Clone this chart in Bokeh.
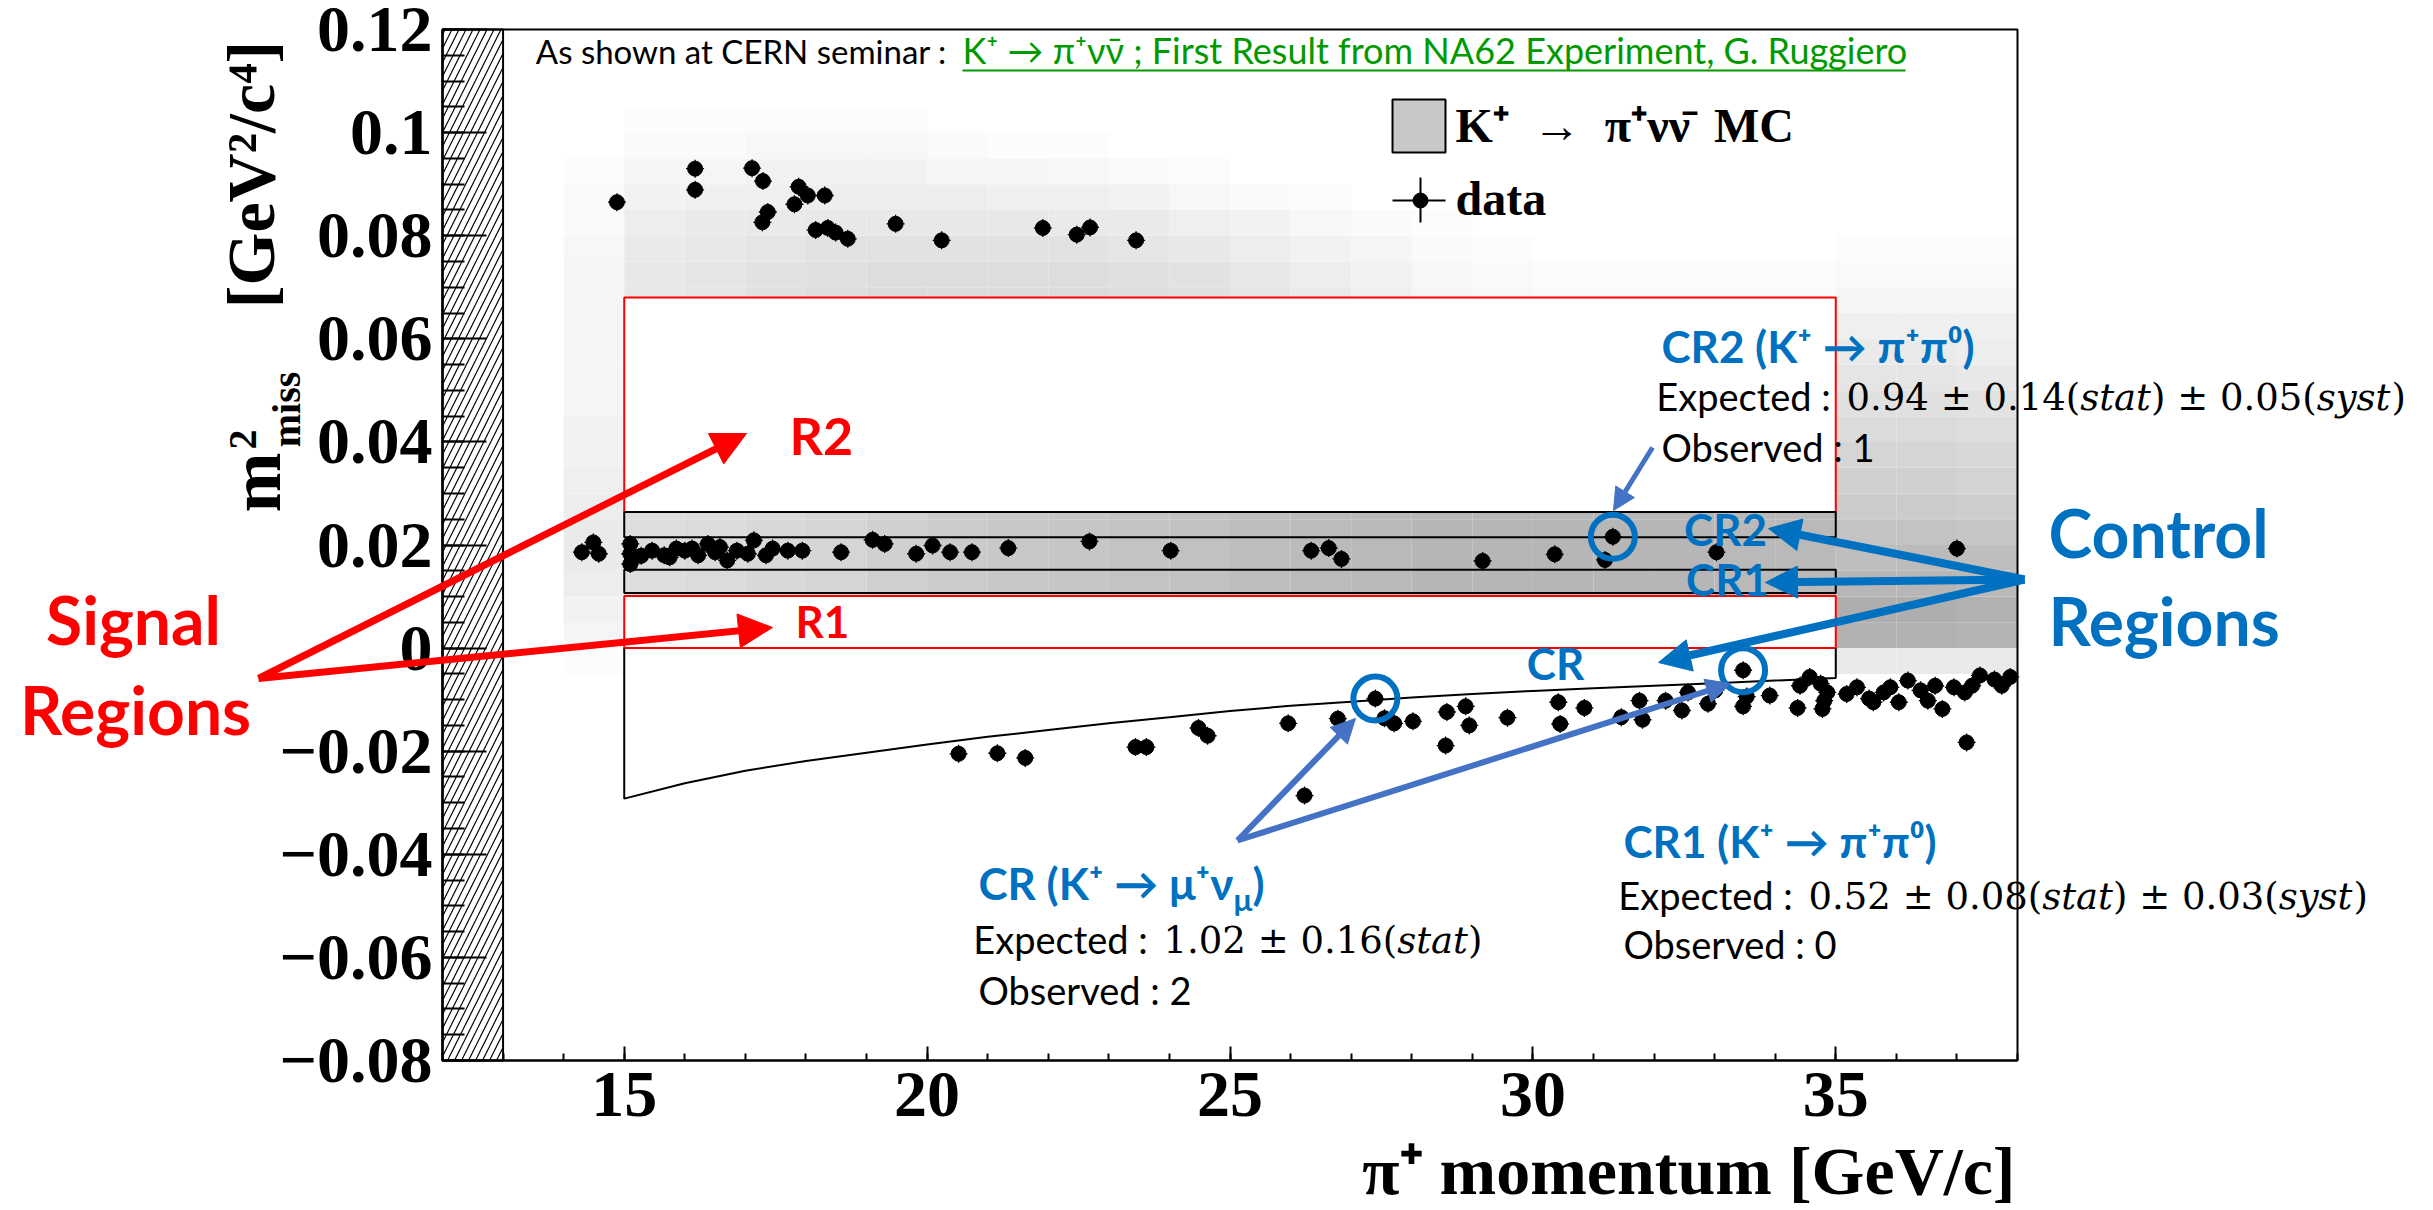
import numpy as np
from bokeh.plotting import figure
from bokeh.models import FixedTicker, Label, Arrow, NormalHead, Range1d
from bokeh.embed import file_html
from bokeh.resources import INLINE

# ---------------- data ----------------
p_range = [12, 38]
m2_range = [-0.08, 0.12]
y_ticks = [-0.08, -0.06, -0.04, -0.02, 0.0, 0.02, 0.04, 0.06, 0.08, 0.1, 0.12]
y_tick_labels = ["\u22120.08", "\u22120.06", "\u22120.04", "\u22120.02", "0",
                 "0.02", "0.04", "0.06", "0.08", "0.1", "0.12"]
x_ticks = [15, 20, 25, 30, 35]
x_tick_labels = ["15", "20", "25", "30", "35"]

excluded_p = [12, 13]          # hatched momentum band
signal_p = [15, 35]            # momentum range of the regions
R1 = [0.0, 0.0101]
R2 = [0.0264, 0.068]
CR1 = [0.0107, 0.0152]
CR2 = [0.0215, 0.0264]

# upper edge of the K -> mu nu control region
mu_p = [15, 16, 17, 18, 19, 20, 21, 22, 23, 24, 25, 26, 27, 28, 29, 30, 31, 32, 33, 34, 35]
mu_m2 = [-0.0292, -0.0262, -0.0238, -0.0219, -0.0203, -0.0187, -0.0172, -0.0159,
         -0.0146, -0.0134, -0.0122, -0.0112, -0.0104, -0.0096, -0.0089, -0.0083,
         -0.0078, -0.0073, -0.0068, -0.0063, -0.0058]

# data events: momentum [GeV/c]
data_p = [
    14.88, 16.17, 16.17, 17.11, 17.29, 17.37, 17.28, 17.88, 18.03, 17.81, 18.31, 18.16,
    18.36, 18.49, 18.69, 19.48, 20.24, 21.91, 22.47, 22.69, 23.45,
    14.30, 14.49, 14.58, 15.10, 15.10, 15.10, 15.28, 15.46, 15.66, 15.75, 15.86, 16.00,
    16.12, 16.22, 16.38, 16.50, 16.58, 16.70, 16.86, 17.04, 17.14, 17.34, 17.45, 17.70,
    17.94, 18.58, 19.10, 19.30, 19.82, 20.09, 20.38, 20.74, 21.34, 22.68, 24.02, 26.34,
    26.63, 26.84, 29.17, 30.36, 31.19, 31.32, 33.03, 37.00,
    20.52, 21.16, 21.62, 23.44, 23.62, 24.48, 24.63, 25.96, 26.23, 26.78, 27.40, 27.55,
    27.71, 28.02, 28.58, 28.56, 28.89, 28.95, 29.58, 30.42, 30.45, 30.85, 31.46, 31.76,
    31.81, 32.19, 32.46, 32.56, 32.89, 33.01, 33.47, 33.47, 33.53, 33.91, 34.37, 34.41,
    34.57, 34.75, 34.81, 34.78, 34.86, 35.18, 35.35, 35.55, 35.62, 35.79, 35.90, 36.04,
    36.19, 36.40, 36.52, 36.64, 36.76, 36.95, 37.13, 37.16, 37.25, 37.38, 37.62, 37.74,
    37.88]
# data events: m2_miss [GeV^2/c^4]
data_m2 = [
    0.0865, 0.0930, 0.0889, 0.0931, 0.0906, 0.0846, 0.0826, 0.0895, 0.0878, 0.0861, 0.0878, 0.0811,
    0.0815, 0.0806, 0.0794, 0.0823, 0.0791, 0.0815, 0.0802, 0.0816, 0.0791,
    0.0186, 0.0205, 0.0183, 0.0202, 0.0183, 0.0163, 0.0179, 0.0189, 0.0180, 0.0176, 0.0193, 0.0189,
    0.0193, 0.0180, 0.0202, 0.0186, 0.0196, 0.0170, 0.0189, 0.0183, 0.0209, 0.0180, 0.0193, 0.0189,
    0.0189, 0.0186, 0.0210, 0.0202, 0.0183, 0.0199, 0.0186, 0.0186, 0.0194, 0.0207, 0.0189, 0.0189,
    0.0194, 0.0173, 0.0169, 0.0182, 0.0171, 0.0216, 0.0186, 0.0193,
    -0.0205, -0.0204, -0.0213, -0.0192, -0.0192, -0.0155, -0.0170, -0.0146, -0.0286, -0.0137, -0.0098, -0.0136,
    -0.0146, -0.0142, -0.0124, -0.0189, -0.0113, -0.0150, -0.0135, -0.0105, -0.0147, -0.0116, -0.0134, -0.0102,
    -0.0139, -0.0102, -0.0121, -0.0086, -0.0108, -0.0082, -0.0043, -0.0113, -0.0094, -0.0092, -0.0116, -0.0073,
    -0.0056, -0.0069, -0.0102, -0.0118, -0.0086, -0.0089, -0.0076, -0.0098, -0.0105, -0.0086, -0.0076, -0.0105,
    -0.0063, -0.0082, -0.0102, -0.0073, -0.0118, -0.0076, -0.0086, -0.0183, -0.0073, -0.0053, -0.0061, -0.0073,
    -0.0056]

# events highlighted with circles
circled_p = [31.32, 33.47, 27.40]
circled_m2 = [0.0216, -0.0043, -0.0098]

# K+ -> pi+ nu nubar MC density (grey level 0..40), 1 GeV/c x 0.005 GeV^2/c^4 cells
mc_p_edges = [14, 15, 16, 17, 18, 19, 20, 21, 22, 23, 24, 25, 26,
              27, 28, 29, 30, 31, 32, 33, 34, 35, 36, 37, 38]
mc_m2_edges = [-0.005, 0.0, 0.005, 0.010, 0.015, 0.020, 0.025, 0.030, 0.035, 0.040, 0.045,
               0.050, 0.055, 0.060, 0.065, 0.070, 0.075, 0.080, 0.085, 0.090, 0.095, 0.100, 0.105]
band = [13, 14, 15, 16, 18, 20, 21, 22, 23, 24, 25, 26, 27, 28, 28, 28, 28, 28, 27, 27]
blind = [0] * 20
mc_grey = [
    [1] + [3] * 20 + [8, 8, 8],                 # -0.005
    [4] + blind + [30, 30, 29],                 # 0.000
    [5] + blind + [31, 31, 30],                 # 0.005
    [7] + band + [28, 28, 27],                  # 0.010
    [8] + band + [25, 26, 25],                  # 0.015
    [8] + band + [23, 23, 22],                  # 0.020
    [7] + band + [20, 20, 19],                  # 0.025
    [6] + blind + [18, 18, 17],                 # 0.030
    [5] + blind + [16, 16, 15],                 # 0.035
    [5] + blind + [14, 14, 13],                 # 0.040
    [4] + blind + [12, 12, 11],                 # 0.045
    [4] + blind + [10, 10, 9],                  # 0.050
    [4] + blind + [8, 8, 7],                    # 0.055
    [4] + blind + [6, 6, 6],                    # 0.060
    [4, 9, 10, 12, 13, 14, 14, 14, 14, 13, 12, 10, 8, 6, 4, 3, 2, 2, 2, 2, 2, 4, 4, 4],   # 0.065
    [4, 9, 10, 11, 12, 13, 13, 13, 13, 12, 11, 9, 7, 5, 3, 2, 1, 1, 1, 1, 1, 2, 2, 2],    # 0.070
    [3, 8, 9, 10, 11, 11, 11, 11, 11, 10, 9, 7, 5, 4, 2, 1, 0, 0, 0, 0, 0, 1, 1, 1],      # 0.075
    [2, 7, 8, 8, 9, 9, 9, 9, 8, 8, 6, 5, 3, 2, 1, 0, 0, 0, 0, 0, 0, 0, 0, 0],             # 0.080
    [2, 5, 6, 6, 7, 7, 7, 6, 6, 5, 3, 2, 1, 0, 0, 0, 0, 0, 0, 0, 0, 0, 0, 0],             # 0.085
    [1, 4, 4, 5, 5, 5, 4, 4, 3, 2, 1, 0, 0, 0, 0, 0, 0, 0, 0, 0, 0, 0, 0, 0],             # 0.090
    [0, 2, 2, 3, 3, 3, 2, 1, 1, 0, 0, 0, 0, 0, 0, 0, 0, 0, 0, 0, 0, 0, 0, 0],             # 0.095
    [0, 1, 1, 1, 1, 1, 0, 0, 0, 0, 0, 0, 0, 0, 0, 0, 0, 0, 0, 0, 0, 0, 0, 0],             # 0.100
]

# ---------------- geometry: the data box sits at these canvas pixels ----------------
W, H = 2433, 1210
FL, FR, FT, FB = 442, 2017, 29, 1060


def X(px):
    return p_range[0] + (px - FL) * (p_range[1] - p_range[0]) / (FR - FL)


def Y(py):
    return m2_range[1] - (py - FT) * (m2_range[1] - m2_range[0]) / (FB - FT)


BLUE = "#0070C0"
LBLUE = "#4472C4"
RED = "#FF0000"
GREEN = "#009A00"
SANS = "Lato"
SERIF = "Liberation Serif"
MATH = "DejaVu Serif"
# half of (ascent - descent) per em: offset from baseline to the "middle" anchor
MID = {SANS: 0.387, SERIF: 0.338, MATH: 0.346}
# advance widths (em) of DejaVu Serif glyphs used in the math parts
MATH_W = {"0": 0.636, "1": 0.636, "2": 0.636, "3": 0.636, "4": 0.636, "5": 0.636,
          "6": 0.636, "7": 0.636, "8": 0.636, "9": 0.636, ".": 0.318, " ": 0.318,
          "\u00b1": 0.838, "(": 0.390, ")": 0.390, "s": 0.513, "t": 0.402, "a": 0.596, "y": 0.592}
NB = "\u00a0"

p = figure(width=W, height=H, x_range=Range1d(X(0), X(W)), y_range=Range1d(Y(H), Y(0)),
           output_backend="svg", toolbar_location=None, title=None,
           min_border_left=0, min_border_right=0, min_border_top=0, min_border_bottom=0)
p.background_fill_color = "white"
p.border_fill_color = "white"
p.outline_line_color = None
p.xgrid.visible = False
p.ygrid.visible = False

# ---- MC density ----
L, R_, B, T, C = [], [], [], [], []
for j in range(len(mc_m2_edges) - 1):
    for i in range(len(mc_p_edges) - 1):
        d = mc_grey[j][i]
        if d <= 0:
            continue
        g = int(round(255 - 2.6 * d))
        L.append(mc_p_edges[i]); R_.append(mc_p_edges[i + 1])
        B.append(mc_m2_edges[j]); T.append(mc_m2_edges[j + 1])
        C.append("#%02x%02x%02x" % (g, g, g))
p.quad(left=L, right=R_, bottom=B, top=T, fill_color=C, line_color=None)

# ---- blinded signal regions (white) ----
p.quad(left=[signal_p[0]] * 2, right=[signal_p[1]] * 2, bottom=[R1[0], R2[0]], top=[R1[1], R2[1]],
       fill_color="white", line_color=None)
p.varea(x=mu_p, y1=mu_m2, y2=[0] * len(mu_p), fill_color="white")

# ---- hatched excluded band ----
p.quad(left=[excluded_p[0]], right=[excluded_p[1]], bottom=[m2_range[0]], top=[m2_range[1]],
       fill_color="white", hatch_pattern="/", hatch_color="black", hatch_scale=14,
       hatch_weight=1.2, line_color="black", line_width=2)

# ---- signal regions (red) ----
p.quad(left=[signal_p[0]] * 2, right=[signal_p[1]] * 2, bottom=[R1[0], R2[0]], top=[R1[1], R2[1]],
       fill_color=None, line_color=RED, line_width=2)
# ---- control regions (black) ----
p.quad(left=[signal_p[0]] * 2, right=[signal_p[1]] * 2, bottom=[CR1[0], CR2[0]], top=[CR1[1], CR2[1]],
       fill_color=None, line_color="black", line_width=2)
p.line(x=[mu_p[0]] + mu_p + [mu_p[-1]], y=[0.0] + mu_m2 + [0.0], line_color="black", line_width=2)

# ---- data ----
p.scatter(x=data_p, y=data_m2, marker="cross", size=18, line_color="black", line_width=1.3)
p.scatter(x=data_p, y=data_m2, marker="circle", size=15, fill_color="black", line_color="black")

# ---- circled events ----
p.scatter(x=circled_p, y=circled_m2, marker="circle", size=44, fill_color=None,
          line_color=BLUE, line_width=6)

# ---- plot box ----
p.quad(left=[p_range[0]], right=[p_range[1]], bottom=[m2_range[0]], top=[m2_range[1]],
       fill_color=None, line_color="black", line_width=2)

# ---- axes (placed at the box edges) ----
yminor = [round(-0.08 + 0.005 * k, 3) for k in range(41)]
p.yaxis.ticker = FixedTicker(ticks=y_ticks, minor_ticks=yminor)
p.yaxis.major_label_overrides = dict(zip(y_ticks, y_tick_labels))
p.yaxis.fixed_location = p_range[0]
p.yaxis.bounds = tuple(m2_range)
xminor = list(range(12, 39))
p.xaxis.ticker = FixedTicker(ticks=x_ticks, minor_ticks=xminor)
p.xaxis.major_label_overrides = dict(zip(x_ticks, x_tick_labels))
p.xaxis.fixed_location = m2_range[0]
p.xaxis.bounds = tuple(p_range)
for ax in (p.xaxis[0], p.yaxis[0]):
    ax.major_label_text_font = SERIF
    ax.major_label_text_font_style = "bold"
    ax.major_label_text_font_size = "66px"
    ax.major_label_text_color = "black"
    ax.axis_line_width = 2
    ax.major_tick_line_width = 2
    ax.minor_tick_line_width = 2
    ax.major_tick_out = 0
    ax.minor_tick_out = 0
p.yaxis.major_tick_in = 44
p.yaxis.minor_tick_in = 22
p.yaxis.major_label_standoff = 10
p.xaxis.major_tick_in = 14
p.xaxis.minor_tick_in = 7
p.xaxis.major_label_standoff = 12


def lab(px, py, text, size, color="black", font=SANS, style="normal", align="left",
        baseline="alphabetic", angle=0.0):
    """(px, py): reference pixel of the text anchor; 'alphabetic' means py is the baseline."""
    if baseline == "alphabetic":
        py -= MID[font] * size
    p.add_layout(Label(x=X(px), y=Y(py), text=text, text_font=font, text_font_size="%dpx" % size,
                       text_font_style=style, text_color=color, text_align=align,
                       text_baseline="middle", angle=angle))


def math_line(px, py, pieces, size):
    """Cambria-like maths: upright numbers, italic words, pieces laid out left to right."""
    x = px
    for text, italic in pieces:
        lab(x, py, text, size, font=MATH, style="italic" if italic else "normal")
        x += sum(MATH_W.get(c, 0.6) for c in text) * size


def arr(x0, y0, x1, y1, color, width, head):
    p.add_layout(Arrow(end=NormalHead(size=head, fill_color=color, line_color=color, line_width=1),
                       x_start=X(x0), y_start=Y(y0), x_end=X(x1), y_end=Y(y1),
                       line_color=color, line_width=width))


# axis titles
lab(2015, 1193, "\u03c0\u207a momentum [GeV/c]", 68, font=SERIF, style="bold", align="right")
ang = np.pi / 2
# rotated pieces: anchors are the centres of each piece (centre / middle)
lab(255, 482, "m", 72, font=SERIF, style="bold", align="center", baseline="middle", angle=ang)
lab(242, 439, "2", 40, font=SERIF, style="bold", align="center", baseline="middle", angle=ang)
lab(286, 409, "miss", 40, font=SERIF, style="bold", align="center", baseline="middle", angle=ang)
lab(250, 174, "[GeV\u00b2/c\u2074]", 68, font=SERIF, style="bold", align="center", baseline="middle",
    angle=ang)

# source note
lab(955, 63, "As shown at CERN seminar : ", 33, align="right")
lab(962, 63, "K\u207a \u2192 \u03c0\u207a\u03bd\u03bd\u0304 ; First Result from NA62 Experiment, G. Ruggiero",
    36, color=GREEN)
p.add_layout(Arrow(end=None, x_start=X(962), y_start=Y(70), x_end=X(1905), y_end=Y(70),
                   line_color=GREEN, line_width=2))

# legend
p.quad(left=[X(1392)], right=[X(1445)], bottom=[Y(152)], top=[Y(99)],
       fill_color="#c8c8c8", line_color="black", line_width=2)
lab(1455, 141, "K\u207a" + NB + NB + "\u2192" + NB + NB + "\u03c0\u207a\u03bd\u03bd\u0304" + NB + NB + "MC",
    48, font=SERIF, style="bold")
p.segment(x0=[X(1392), X(1420)], y0=[Y(200), Y(177)], x1=[X(1445), X(1420)], y1=[Y(200), Y(222)],
          line_color="black", line_width=2)
p.scatter(x=[X(1420)], y=[Y(200)], marker="circle", size=15, fill_color="black", line_color="black")
lab(1455, 214, "data", 48, font=SERIF, style="bold")

# signal regions annotation
lab(133, 645, "Signal", 66, color=RED, style="bold", align="center")
lab(135, 735, "Regions", 66, color=RED, style="bold", align="center")
arr(258, 678, 746, 433, RED, 7, 34)
arr(258, 678, 772, 627, RED, 7, 34)
lab(789, 455, "R2", 52, color=RED, style="bold")
lab(795, 638, "R1", 44, color=RED, style="bold")

# control regions annotation
lab(2048, 558, "Control", 66, color=BLUE, style="bold")
lab(2048, 646, "Regions", 66, color=BLUE, style="bold")
arr(2024, 579, 1768, 528, BLUE, 8, 32)
arr(2024, 579, 1765, 582, BLUE, 8, 32)
arr(2024, 579, 1658, 662, BLUE, 8, 32)
lab(1725, 528, "CR2", 44, color=BLUE, style="bold", align="center", baseline="middle")
lab(1727, 578, "CR1", 44, color=BLUE, style="bold", align="center", baseline="middle")
lab(1555, 662, "CR", 44, color=BLUE, style="bold", align="center", baseline="middle")

# CR2 box
lab(1661, 363, "CR2 (K\u207a \u2192 \u03c0\u207a\u03c0\u2070)", 44, color=BLUE, style="bold")
lab(1840, 410, "Expected :" + NB, 38, align="right")
math_line(1846, 410, [("0.94 \u00b1 0.14(", False), ("stat", True), (") \u00b1 0.05(", False),
                      ("syst", True), (")", False)], 37)
lab(1661, 461, "Observed : 1", 38)
arr(1652, 447, 1613, 510, LBLUE, 5, 22)

# CR muon box
lab(978, 900, "CR (K\u207a \u2192 \u03bc\u207a\u03bd", 44, color=BLUE, style="bold")
lab(1233, 910, "\u03bc", 31, color=BLUE, style="bold")
lab(1252, 900, ")", 44, color=BLUE, style="bold")
lab(1157, 953, "Expected :" + NB, 38, align="right")
math_line(1163, 953, [("1.02 \u00b1 0.16(", False), ("stat", True), (")", False)], 37)
lab(978, 1004, "Observed : 2", 38)
arr(1237, 840, 1355, 718, LBLUE, 6, 24)
arr(1237, 840, 1730, 683, LBLUE, 6, 24)

# CR1 box
lab(1623, 858, "CR1 (K\u207a \u2192 \u03c0\u207a\u03c0\u2070)", 44, color=BLUE, style="bold")
lab(1802, 909, "Expected :" + NB, 38, align="right")
math_line(1808, 909, [("0.52 \u00b1 0.08(", False), ("stat", True), (") \u00b1 0.03(", False),
                      ("syst", True), (")", False)], 37)
lab(1623, 958, "Observed : 0", 38)

open("out.html", "w").write(file_html(p, INLINE))
